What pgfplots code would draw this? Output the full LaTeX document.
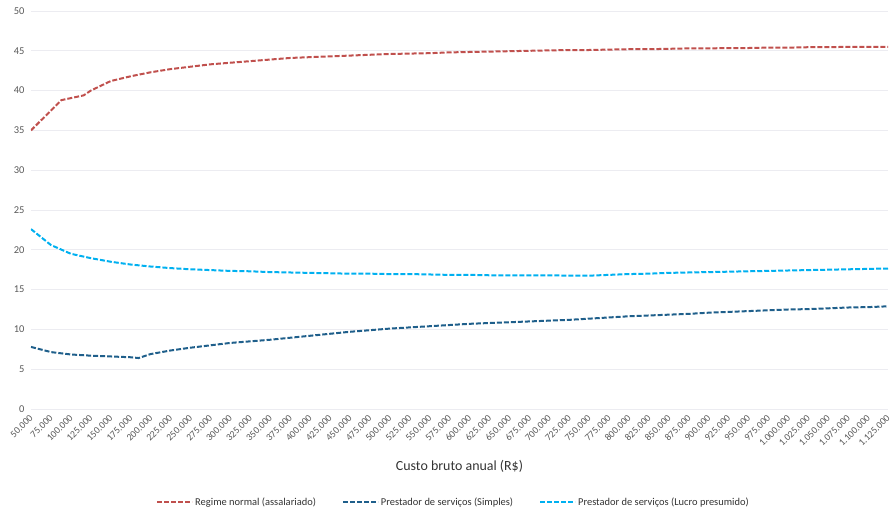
\documentclass[border=0pt]{standalone}
\usepackage{fontspec}
\setmainfont{Carlito}
\usepackage{pgfplots}
\usepackage{pgfplotstable}
\pgfplotsset{compat=1.18}

\definecolor{regime}{RGB}{192,80,77}
\definecolor{simples}{RGB}{31,95,139}
\definecolor{lucro}{RGB}{0,176,240}
\definecolor{gridc}{RGB}{236,236,241}
\definecolor{ticktext}{RGB}{89,89,89}

% Carga (%) por custo bruto anual (R$)
\pgfplotstableread{
x y
50000 35.0
88000 38.8
116000 39.4
125000 40.0
150000 41.2
175000 41.8
200000 42.3
225000 42.7
250000 43.0
275000 43.3
300000 43.5
325000 43.7
350000 43.9
375000 44.1
400000 44.2
425000 44.3
450000 44.4
475000 44.5
500000 44.6
525000 44.65
550000 44.7
575000 44.8
600000 44.85
625000 44.9
650000 44.95
675000 45.0
700000 45.05
725000 45.1
750000 45.1
775000 45.15
800000 45.2
825000 45.2
850000 45.25
875000 45.3
900000 45.3
925000 45.35
950000 45.35
975000 45.4
1000000 45.4
1025000 45.45
1050000 45.45
1075000 45.5
1100000 45.5
1125000 45.5
}\regime

\pgfplotstableread{
x y
50000 7.8
75000 7.15
100000 6.85
125000 6.7
150000 6.6
175000 6.5
185000 6.4
200000 6.9
225000 7.35
250000 7.7
275000 8.0
300000 8.3
325000 8.5
350000 8.7
375000 8.95
400000 9.2
425000 9.45
450000 9.7
475000 9.9
500000 10.1
525000 10.25
550000 10.4
575000 10.55
600000 10.7
625000 10.8
650000 10.9
675000 11.0
700000 11.1
725000 11.2
750000 11.35
775000 11.5
800000 11.65
825000 11.75
850000 11.85
875000 11.95
900000 12.1
925000 12.2
950000 12.3
975000 12.4
1000000 12.5
1025000 12.55
1050000 12.65
1075000 12.75
1100000 12.8
1125000 12.9
}\simples

\pgfplotstableread{
x y
50000 22.6
75000 20.6
100000 19.5
125000 18.95
150000 18.5
175000 18.15
200000 17.9
225000 17.7
250000 17.55
275000 17.45
300000 17.35
325000 17.3
350000 17.2
375000 17.15
400000 17.1
425000 17.05
450000 17.0
475000 17.0
500000 16.95
525000 16.95
550000 16.9
575000 16.85
600000 16.85
625000 16.8
650000 16.8
675000 16.8
700000 16.8
725000 16.75
750000 16.75
775000 16.85
800000 16.95
825000 17.0
850000 17.1
875000 17.15
900000 17.2
925000 17.25
950000 17.3
975000 17.35
1000000 17.4
1025000 17.45
1050000 17.5
1075000 17.55
1100000 17.6
1125000 17.65
}\lucro

\begin{document}
\begin{tikzpicture}
\begin{axis}[
  scale only axis,
  width=857bp, height=398bp,
  xmin=50000, xmax=1125000,
  ymin=0, ymax=50,
  xtick={50000,75000,...,1125000},
  ytick={0,5,...,50},
  scaled x ticks=false,
  /pgf/number format/.cd, fixed, precision=0, 1000 sep={.}, assume math mode=true,
  /pgfplots/.cd,
  axis line style={draw=none},
  major tick length=0pt,
  ymajorgrids,
  grid style={gridc, line width=0.8bp},
  tick label style={font=\fontsize{10.5}{12}\selectfont, text=ticktext},
  x tick label style={font=\fontsize{9.8}{12}\selectfont, rotate=45, anchor=east, inner sep=0bp, yshift=-5.5bp, xshift=-5bp},
  y tick label style={xshift=-3bp},
  xlabel={Custo bruto anual (R\$)},
  xlabel style={font=\fontsize{14}{16}\selectfont, text=black!80, at={(axis description cs:0.5,-0.143)}, anchor=center},
  legend columns=3,
  legend style={draw=none, at={(axis description cs:0.493,-0.234)}, anchor=center,
    font=\fontsize{10.5}{12}\selectfont, text=black!80,
    /tikz/every even column/.append style={column sep=24bp}},
  legend image code/.code={\draw[#1] (0bp,0bp) -- (35bp,0bp);},
  every axis plot/.append style={line width=2bp, dash pattern=on 5bp off 2bp},
]
\addplot[regime] table {\regime};
\addlegendentry{Regime normal (assalariado)}
\addplot[simples] table {\simples};
\addlegendentry{Prestador de serviços (Simples)}
\addplot[lucro] table {\lucro};
\addlegendentry{Prestador de serviços (Lucro presumido)}
\end{axis}
\pgfresetboundingbox
\path (-31bp,-101bp) rectangle (860bp,409bp);
\end{tikzpicture}
\end{document}
